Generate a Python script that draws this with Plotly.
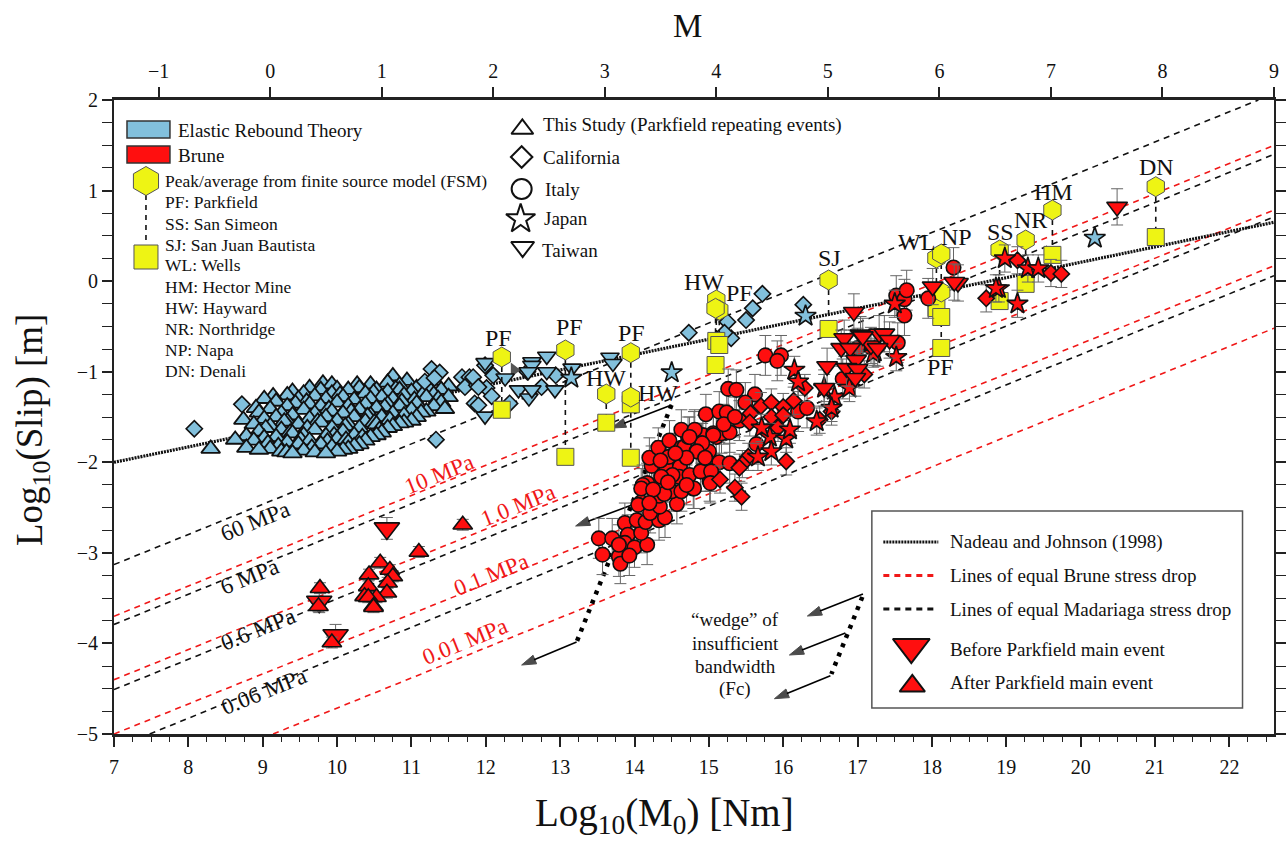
import plotly.graph_objects as go

SERIF = "Liberation Serif"
BLUE = "#82C0DC"
RED = "#FF0F0F"
YEL = "#EEF414"

# Reference lines: [start, end] in axis units
nj_x = [7, 22.6]
nj_y = [-2.0, 0.65]
brune_labels = ["10 MPa", "1.0 MPa", "0.1 MPa", "0.01 MPa"]
brune_x0 = [7, 7, 7, 9.14]
brune_y0 = [-3.70, -4.40, -5, -5]
brune_x1 = [22.6, 22.6, 22.6, 22.6]
brune_y1 = [1.50, 0.785, 0.17, -0.52]
mad_labels = ["60 MPa", "6 MPa", "0.6 MPa", "0.06 MPa"]
mad_x0 = [7, 7, 7, 7.48]
mad_y0 = [-3.13, -3.79, -4.51, -5]
mad_x1 = [22.39, 22.6, 22.6, 22.6]
mad_y1 = [2.0, 1.40, 0.71, 0.06]

# This study, blue triangles: moment column -> slips
this_study_columns = {
    8.30: [-1.85], 8.63: [-1.75], 8.78: [-1.71, -1.84], 8.88: [-1.58, -1.76],
    8.95: [-1.45, -1.66, -1.86], 9.02: [-1.30, -1.52, -1.73], 9.10: [-1.41, -1.60, -1.85],
    9.18: [-1.33, -1.50, -1.72], 9.25: [-1.46, -1.64, -1.88], 9.33: [-1.26, -1.38, -1.55, -1.78],
    9.40: [-1.22, -1.48, -1.68, -1.90], 9.48: [-1.30, -1.58, -1.80], 9.55: [-1.24, -1.42, -1.70, -1.87],
    9.63: [-1.18, -1.36, -1.52, -1.76], 9.70: [-1.27, -1.46, -1.64, -1.89], 9.78: [-1.20, -1.38, -1.56, -1.80],
    9.85: [-1.30, -1.50, -1.71, -1.90], 9.93: [-1.14, -1.24, -1.44, -1.62, -1.83],
    10.00: [-1.19, -1.34, -1.54, -1.74, -1.88], 10.08: [-1.28, -1.46, -1.66, -1.86],
    10.15: [-1.20, -1.38, -1.58, -1.78, -1.85], 10.23: [-1.31, -1.50, -1.70, -1.82],
    10.30: [-1.18, -1.42, -1.62, -1.80], 10.38: [-1.24, -1.36, -1.55, -1.76],
    10.45: [-1.14, -1.30, -1.48, -1.72], 10.53: [-1.20, -1.40, -1.58, -1.70],
    10.60: [-1.28, -1.50, -1.67], 10.68: [-1.12, -1.22, -1.36, -1.62], 10.75: [-1.05, -1.30, -1.46, -1.60],
    10.84: [-1.15, -1.20, -1.38, -1.57], 10.90: [-1.26, -1.48, -1.56], 11.00: [-1.22, -1.42, -1.54],
    11.07: [-1.18, -1.35, -1.50], 11.20: [-1.14, -1.28, -1.44], 11.30: [-1.10, -1.25, -1.38],
    11.40: [-1.20, -1.34], 11.50: [-1.16, -1.28],
}
this_study_extra = [(8.74, -1.53), (8.91, -1.40), (9.04, -1.62), (9.14, -1.27), (9.21, -1.82), (9.29, -1.55),
                    (9.37, -1.67), (9.44, -1.35), (9.51, -1.75), (9.59, -1.33), (9.66, -1.84), (9.74, -1.55),
                    (9.81, -1.13), (9.89, -1.41), (9.96, -1.70), (10.04, -1.25), (10.11, -1.60), (10.19, -1.44),
                    (10.27, -1.14), (10.34, -1.72), (10.41, -1.49), (10.49, -1.23), (10.57, -1.64), (10.64, -1.39),
                    (10.71, -1.53), (10.79, -1.19), (10.87, -1.33), (10.94, -1.10), (11.04, -1.31), (11.13, -1.45),
                    (11.25, -1.20), (11.36, -1.30), (9.07, -1.79), (9.32, -1.89), (9.60, -1.62), (9.87, -1.77),
                    (10.12, -1.75), (10.50, -1.56), (11.16, -1.24), (11.45, -1.41)]

ca_blue = [(8.08, -1.63), (8.72, -1.36), (11.27, -0.97), (11.38, -1.01), (11.18, -1.11), (11.31, -1.07),
           (11.33, -1.75), (11.68, -1.06), (11.78, -1.06), (11.72, -1.17), (11.88, -1.15), (11.85, -1.35),
           (11.99, -0.93), (12.01, -1.18), (12.10, -1.04), (11.83, -1.06), (12.08, -1.27), (11.90, -1.17),
           (11.90, -1.37), (12.32, -1.35), (12.56, -1.00), (12.75, -1.17), (12.94, -1.04), (14.73, -0.57),
           (15.25, -0.45), (15.30, -0.63), (15.21, -0.57), (15.50, -0.43), (15.59, -0.30), (15.72, -0.14),
           (16.27, -0.26)]
taiwan_blue = [(11.99, -0.90), (12.26, -1.07), (11.99, -1.49), (12.44, -1.20), (12.58, -1.29), (12.62, -0.89),
               (12.62, -0.93), (12.57, -1.00), (12.82, -0.83), (13.16, -0.96), (12.93, -1.20), (12.82, -1.00),
               (12.62, -1.20), (13.67, -0.84), (13.71, -0.91)]
japan_blue = [(13.15, -1.07), (14.50, -1.01), (16.30, -0.385), (20.19, 0.476)]
gray_mark = [(12.38, -0.98)]

italy_red = [(13.52, -2.84), (13.70, -2.84), (13.57, -3.02), (13.79, -3.04), (13.81, -3.12), (13.87, -2.67),
             (13.91, -2.80), (13.87, -2.89), (13.79, -2.91), (14.00, -2.94), (13.93, -3.03), (14.17, -2.91),
             (14.09, -2.78), (14.03, -2.64), (14.15, -2.66), (14.33, -2.64), (14.41, -2.61), (14.21, -2.56),
             (14.09, -2.44), (14.05, -2.47), (14.34, -2.49), (14.57, -2.46), (14.50, -2.32), (14.63, -2.32),
             (14.79, -2.29), (14.33, -2.37), (14.29, -2.26), (14.17, -2.23), (14.11, -2.25), (14.09, -2.29),
             (14.43, -2.06), (14.23, -2.04), (14.20, -1.95), (14.32, -1.84), (14.47, -1.76), (14.46, -1.94),
             (14.61, -2.05), (14.60, -2.16), (14.74, -2.14), (14.51, -2.14), (14.36, -2.16), (14.63, -1.84),
             (14.67, -1.83), (14.83, -1.88), (14.72, -1.72), (14.63, -1.64), (14.80, -1.66), (14.92, -1.70),
             (14.90, -1.79), (15.06, -1.68), (15.00, -1.88), (14.89, -2.10), (15.02, -2.10), (15.01, -2.21),
             (15.10, -1.72), (15.76, -0.82), (15.97, -0.82), (15.92, -0.88), (15.26, -1.19), (15.37, -1.20),
             (15.62, -1.25), (15.49, -1.34), (14.96, -1.47), (15.14, -1.44), (15.24, -1.45), (15.41, -1.54),
             (14.81, -1.64), (15.17, -1.68), (15.28, -1.67), (15.06, -1.70), (14.91, -1.79), (14.84, -1.88),
             (14.74, -1.72), (15.14, -2.00), (15.28, -2.01), (14.89, -2.10), (15.03, -2.10), (15.02, -2.23),
             (14.80, -2.29), (15.64, -1.80), (16.20, -1.44), (16.32, -1.40), (17.52, -0.16), (17.63, -0.20),
             (17.66, -0.10), (17.63, -0.38), (17.95, -0.19), (18.29, 0.15), (17.54, -0.68), (16.80, -1.08),
             (17.00, -0.74), (14.40, -2.35), (14.70, -1.95), (14.55, -1.90), (14.25, -2.30), (14.45, -2.22),
             (14.70, -2.25), (14.95, -1.95), (15.20, -1.58), (15.35, -1.50), (14.20, -2.45), (14.35, -1.98)]
japan_red = [(16.15, -0.98), (16.20, -1.11), (16.69, -1.28), (15.82, -1.72), (16.04, -1.74), (15.84, -1.88),
             (16.09, -1.64), (15.66, -1.94), (15.71, -1.62), (16.45, -1.55), (16.55, -1.18), (16.89, -1.18),
             (17.52, -0.84), (17.23, -0.78), (17.50, -0.25), (16.65, -1.40), (17.21, -0.80), (18.90, -0.08),
             (18.86, -0.08), (19.15, -0.25), (19.29, 0.14), (19.43, 0.14), (18.98, 0.25)]
ca_red = [(16.29, -1.18), (15.70, -1.38), (15.84, -1.34), (16.14, -1.32), (16.00, -1.39), (15.84, -1.50),
          (16.00, -1.48), (15.56, -1.46), (15.55, -1.56), (15.93, -1.62), (16.49, -1.53), (16.65, -1.44),
          (16.04, -1.99), (15.53, -1.94), (15.45, -2.02), (15.41, -2.06), (15.15, -2.19), (15.35, -2.28),
          (15.44, -2.38), (18.73, -0.19), (19.15, 0.23), (19.60, 0.09), (19.74, 0.08), (17.09, -1.03)]
taiwan_red = [(16.95, -0.34), (16.82, -0.63), (17.04, -0.59), (16.78, -0.74), (16.90, -0.74), (17.18, -0.71),
              (17.29, -0.58), (17.36, -0.58), (17.43, -0.65), (17.27, -0.74), (16.59, -0.94), (16.98, -0.87),
              (16.85, -0.96), (17.00, -0.97), (16.97, -1.07), (16.55, -1.18), (18.35, -0.02), (18.30, -0.01),
              (18.01, -0.06), (20.49, 0.82), (17.07, -0.61)]

before_main = [(10.67, -2.73), (9.76, -3.54), (9.98, -3.91)]
after_main = [(9.77, -3.39), (9.75, -3.59), (10.58, -3.11), (10.43, -3.24), (10.71, -3.19), (10.75, -3.26),
              (10.68, -3.33), (10.67, -3.44), (10.42, -3.37), (10.37, -3.48), (10.53, -3.49), (10.42, -3.49),
              (10.49, -3.59), (10.49, -3.60), (11.10, -2.99), (11.69, -2.69), (9.93, -3.99)]

# Finite source models: peak (hexagon) and average (square)
fsm_names = ["PF", "PF", "PF", "HW", "HW", "HW", "HW", "HW", "SJ", "WL", "NP", "PF", "SS", "NR", "HM", "DN"]
fsm_x = [12.215, 13.07, 13.95, 13.62, 13.95, 15.10, 15.14, 15.09, 16.61, 18.06, 18.125, 18.125, 18.91, 19.26, 19.62, 21.01]
fsm_peak = [-0.838, -0.76, -0.79, -1.246, -1.28, -0.208, -0.32, -0.30, 0.013, 0.255, 0.30, -0.12, 0.344, 0.454, 0.785, 1.043]
fsm_avg = [-1.42, -1.94, -1.95, -1.563, -1.36, -0.66, -0.705, -0.926, -0.528, -0.297, -0.396, -0.738, -0.22, -0.03, 0.29, 0.487]

x_ticks = list(range(7, 23))
y_ticks = list(range(-5, 3))
m_ticks = list(range(-1, 10))

# Pixel geometry of the frame, used only for furniture (keys, notes)
L, R, T, B = 114.0, 1275.0, 100.0, 734.0
XMIN, XMAX, YMIN, YMAX = 7.0, 22.6, -5.0, 2.0
def X(px): return XMIN + (px - L) / (R - L) * (XMAX - XMIN)
def Y(py): return YMAX - (py - T) / (B - T) * (YMAX - YMIN)
def PX(px): return (px - L) / (R - L)
def PY(py): return 1 - (py - T) / (B - T)

def xs(p): return [a for a, _ in p]
def ys(p): return [b for _, b in p]

fig = go.Figure()

def line(name, x, y, color, width, dash):
    fig.add_trace(go.Scatter(x=x, y=y, mode="lines", name=name, showlegend=False,
                             line=dict(color=color, width=width, dash=dash), hoverinfo="skip"))

for n, a, b, c, d in zip(brune_labels, brune_x0, brune_y0, brune_x1, brune_y1):
    line("Brune " + n, [a, c], [b, d], "#F01818", 1.6, "6px,5px")
for n, a, b, c, d in zip(mad_labels, mad_x0, mad_y0, mad_x1, mad_y1):
    line("Madariaga " + n, [a, c], [b, d], "#111111", 1.6, "6px,5px")
line("Nadeau and Johnson (1998)", nj_x, nj_y, "#111111", 3.2, "2px,1px")

# wedge of insufficient bandwidth
line("wedge", [X(672), X(577)], [Y(405), Y(642)], "#000000", 4.5, "4px,6px")
line("wedge 2", [X(863), X(832)], [Y(597), Y(674)], "#000000", 4.5, "4px,6px")

def arrow(x0, y0, x1, y1):
    fig.add_trace(go.Scatter(x=[X(x0), X(x1)], y=[Y(y0), Y(y1)], mode="lines+markers", name="wedge arrow",
                             showlegend=False, hoverinfo="skip", line=dict(color="#000000", width=1.6),
                             marker=dict(symbol=["circle", "arrow"], size=[1, 15], color="#000000",
                                         angleref="previous", line=dict(width=1, color="#000000"))))
for a in [(672, 405, 612, 428), (635, 504, 576, 526), (577, 642, 522, 665),
          (863.6, 594, 808, 616), (846, 633, 790, 655), (831, 675.7, 775, 698.7)]:
    arrow(*a)

def pts(name, p, symbol, size, fill, err=None, lw=1.6, lc="#111111"):
    kw = {}
    if err:
        kw["error_y"] = dict(type="constant", value=err, color="#666666", thickness=1, width=6)
    fig.add_trace(go.Scatter(x=xs(p), y=ys(p), mode="markers", name=name, showlegend=False, **kw,
                             marker=dict(symbol=symbol, size=size, color=fill, line=dict(color=lc, width=lw))))

this_study = [(x, v) for x, col in this_study_columns.items() for v in col] + this_study_extra
this_study.sort(key=lambda p: (p[1], p[0]), reverse=True)
pts("This study", this_study, "triangle-up", 16.5, BLUE, lw=1.8)
pts("Overlap", gray_mark, "triangle-right", 13, "#555555", lw=0)
pts("California (ERT)", ca_blue, "diamond", 12.5, BLUE)
pts("Taiwan (ERT)", taiwan_blue, "triangle-down", 16, BLUE)
pts("Japan (ERT)", japan_blue, "star", 16, BLUE)

line("FSM link", [v for x in fsm_x for v in (x, x, None)],
     [v for a, b in zip(fsm_peak, fsm_avg) for v in (a, b, None)], "#111111", 1.6, "5px,5px")

pts("FSM average", list(zip(fsm_x, fsm_avg)), "square", 17, YEL, lw=1, lc="#555555")
pts("FSM peak", list(zip(fsm_x, fsm_peak)), "hexagon", 20, YEL, lw=1, lc="#555555")

pts("Before main", before_main, "triangle-down", 22, RED, err=0.12)
pts("After main", after_main, "triangle-up", 17, RED, err=0.06)
pts("Italy", italy_red, "circle", 14.5, RED, err=0.22)
pts("California", ca_red, "diamond", 12.5, RED, err=0.15)
pts("Japan", japan_red, "star", 16, RED, err=0.15)
pts("Taiwan", taiwan_red, "triangle-down", 18, RED, err=0.2)

# top axis
fig.add_trace(go.Scatter(x=[-1, 9], y=[None, None], xaxis="x2", mode="markers", showlegend=False, hoverinfo="skip"))

# legend keys
def key(name, px, py, symbol, size, fill="white", lc="#111111", lw=2):
    fig.add_trace(go.Scatter(x=[X(px)], y=[Y(py)], mode="markers", name=name, showlegend=False, hoverinfo="skip",
                             marker=dict(symbol=symbol, size=size, color=fill, line=dict(color=lc, width=lw))))
key("key study", 522.7, 129, "triangle-up", 19)
key("key california", 522, 157, "diamond", 16.5)
key("key italy", 522, 189, "circle", 20)
key("key japan", 521, 219, "star", 22)
key("key taiwan", 523, 247, "triangle-down", 20)
key("key before", 912, 647, "triangle-down", 32, RED)
key("key after", 913, 686, "triangle-up", 22, RED)
line("key link", [X(146), X(146)], [Y(195), Y(245)], "#111111", 1.6, "5px,5px")
key("key peak", 146, 181, "hexagon", 29, YEL, "#555555", 1)
key("key avg", 146, 257, "square", 24, YEL, "#555555", 1)

shapes = []
def rect(x0, y0, x1, y1, fill, lc, lw):
    shapes.append(dict(type="rect", xref="paper", yref="paper", x0=PX(x0), x1=PX(x1), y0=PY(y0), y1=PY(y1),
                       fillcolor=fill, line=dict(color=lc, width=lw)))
rect(127, 121, 170, 138, BLUE, "#333333", 1.5)
rect(127, 146, 170, 163, RED, "#333333", 1.5)
rect(872.5, 511, 1243.5, 708, "rgba(0,0,0,0)", "#555555", 1.5)
def sample(py, color, width, dash):
    shapes.append(dict(type="line", xref="paper", yref="paper", x0=PX(884), x1=PX(939), y0=PY(py), y1=PY(py),
                       line=dict(color=color, width=width, dash=dash)))
sample(542, "#111111", 3, "2px,1px")
sample(575.5, "#F01818", 3, "6px,5px")
sample(609, "#111111", 3, "6px,5px")

ann = []
def text(s, px, py, size, color="#111111", anchor="left", angle=0):
    ann.append(dict(text=s, xref="paper", yref="paper", x=PX(px), y=PY(py), showarrow=False, xanchor=anchor,
                    yanchor="middle", textangle=angle, font=dict(family=SERIF, size=size, color=color)))

text("Elastic Rebound Theory", 176.5, 130, 19)
text("Brune", 176.5, 155, 19)
text("Peak/average from finite source model (FSM)", 163.5, 181, 17.5)
for s, py in [("PF: Parkfield", 202), ("SS: San Simeon", 223.5), ("SJ: San Juan Bautista", 244.5), ("WL: Wells", 265.5),
              ("HM: Hector Mine", 286.5), ("HW: Hayward", 307.5), ("NR: Northridge", 329), ("NP: Napa", 350),
              ("DN: Denali", 371)]:
    text(s, 163.5, py, 17.5)
text("This Study (Parkfield repeating events)", 541, 125, 19)
text("California", 541, 157, 19)
text("Italy", 543, 189, 19)
text("Japan", 542, 219, 19)
text("Taiwan", 540, 251, 19)

text("Nadeau and Johnson (1998)", 948.5, 542, 19)
text("Lines of equal Brune stress drop", 948.5, 575.5, 19)
text("Lines of equal Madariaga stress drop", 948.5, 609, 19)
text("Before Parkfield main event", 948.5, 649, 19)
text("After Parkfield main event", 948.5, 682, 19)

for s, py in [("“wedge” of", 619), ("insufficient", 643), ("bandwidth", 666), ("(Fc)", 689)]:
    text(s, 736, py, 19, anchor="center")

for s, px, py in [("60 MPa", 255, 521), ("6 MPa", 250, 576), ("0.6 MPa", 258, 629), ("0.06 MPa", 264, 691)]:
    text(s, px, py, 23, "#111111", "center", -22)
for s, px, py in [("10 MPa", 439, 474), ("1.0 MPa", 518, 505), ("0.1 MPa", 491.7, 574), ("0.01 MPa", 465, 641)]:
    text(s, px, py, 23, "#F01818", "center", -22)

for s, px, py in [("PF", 499, 338), ("PF", 570, 327), ("PF", 632, 333), ("HW", 606, 378), ("HW", 658, 393),
                  ("HW", 705, 282), ("PF", 740, 293), ("SJ", 830, 258), ("WL", 917, 242), ("NP", 957, 237),
                  ("SS", 1001, 232), ("NR", 1031, 220), ("HM", 1054, 192), ("DN", 1157, 167), ("PF", 941, 367)]:
    text(s, px, py, 24, anchor="center")

text("Log<sub>10</sub>(M<sub>0</sub>) [Nm]", 665, 815, 39, anchor="center")
text("Log<sub>10</sub>(Slip) [m]", 32, 430, 37, anchor="center", angle=-90)
text("M", 688, 26, 33, anchor="center")

tickfont = dict(family=SERIF, size=20, color="#111111")
fig.update_layout(
    width=1286, height=841, autosize=False, showlegend=False,
    margin=dict(l=L, r=0, t=T, b=841 - B, pad=0),
    paper_bgcolor="white", plot_bgcolor="white",
    font=dict(family=SERIF),
    shapes=shapes, annotations=ann,
    xaxis=dict(range=[XMIN, XMAX], tickmode="array", tickvals=x_ticks, ticks="outside", ticklen=10, tickwidth=1.5,
               tickcolor="#222222", showgrid=False, zeroline=False, showline=True, linecolor="#222222", linewidth=2.5,
               tickfont=tickfont, ticklabelstandoff=3,
               minor=dict(dtick=0.25, tick0=7, ticks="outside", ticklen=5, tickwidth=1, tickcolor="#222222", showgrid=False)),
    xaxis2=dict(range=[-1.4, 9], overlaying="x", side="top", anchor="y", tickmode="array", tickvals=m_ticks,
                ticks="outside", ticklen=10, tickwidth=1.5, tickcolor="#222222", showgrid=False, zeroline=False,
                showline=True, linecolor="#222222", linewidth=2.5, tickfont=tickfont, ticklabelstandoff=1),
    yaxis=dict(range=[YMIN, YMAX], tickmode="array", tickvals=y_ticks, ticks="outside", ticklen=10, tickwidth=1.5,
               tickcolor="#222222", showgrid=False, zeroline=False, showline=True, linecolor="#222222", linewidth=2,
               mirror="allticks", tickfont=tickfont, ticklabelstandoff=0,
               minor=dict(dtick=0.25, tick0=-5, ticks="outside", ticklen=5, tickwidth=1, tickcolor="#222222", showgrid=False)),
)
fig.write_html("out.html", post_script="document.body.style.margin='0';", config={"displayModeBar": False})
